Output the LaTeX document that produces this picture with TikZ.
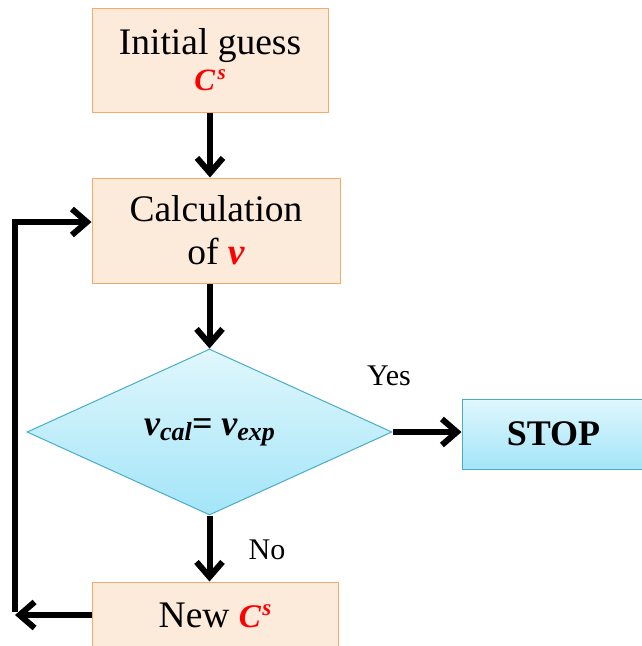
\documentclass[tikz,border=0pt]{standalone}
\usepackage{fontspec}
\setmainfont{Liberation Serif}
\usetikzlibrary{shapes.geometric,arrows.meta}
\definecolor{boxfill}{HTML}{FCEADB}
\definecolor{boxedge}{HTML}{F6A96B}
\definecolor{cyantop}{HTML}{E0F7FD}
\definecolor{cyanbot}{HTML}{A3E5F8}
\definecolor{cyanedge}{HTML}{4BACC6}
\definecolor{accent}{HTML}{FF0000}
\newcommand{\CsBig}{\textcolor{accent}{\bfseries\itshape\fontsize{33}{33}\selectfont C\kern1.5pt\raisebox{12pt}{\fontsize{23}{23}\selectfont s}}}
\newcommand{\CsSmall}{\textcolor{accent}{\bfseries\itshape\fontsize{31}{31}\selectfont C\kern2.5pt\raisebox{11pt}{\fontsize{21}{21}\selectfont s}}}
\newcommand{\vred}{\textcolor{accent}{\bfseries\itshape v}}
\newcommand{\subtxt}[1]{\raisebox{-5pt}{\fontsize{26}{26}\selectfont #1}}
\begin{document}
\begin{tikzpicture}[x=1pt,y=-1pt,
  orangebox/.style={draw=boxedge, line width=1pt, fill=boxfill, align=center,
    inner sep=0pt, font=\fontsize{37.5}{43}\selectfont},
  cyanbox/.style={draw=cyanedge, line width=1pt, top color=cyantop, bottom color=cyanbot,
    inner sep=0pt},
  flow/.style={line width=6pt, -{Straight Barb[length=15pt,width=26pt]}},
  lbl/.style={font=\fontsize{30}{30}\selectfont, inner sep=0pt}
]
\useasboundingbox (0,0) rectangle (642,646);
\node[orangebox, minimum width=236pt, minimum height=104pt, font=\fontsize{37.5}{36}\selectfont] (init) at (210,60) {Initial guess\\\CsSmall};
\node[orangebox, minimum width=248pt, minimum height=105pt] (calc) at (216,230.5) {Calculation\\of \vred};
\node[cyanbox, shape=diamond, aspect=2.2, minimum width=365pt, minimum height=166pt,
  font=\fontsize{36}{36}\selectfont\bfseries\itshape] (dec) at (209.5,432) {v\subtxt{cal}= v\subtxt{exp}};
\node[cyanbox, minimum width=183pt, minimum height=70pt, font=\fontsize{36}{36}\selectfont\bfseries] (stop) at (553.5,434) {STOP};
\node[orangebox, minimum width=246pt, minimum height=66pt] (new) at (215,615) {New \CsBig};
\coordinate (lb) at (15,615);
\coordinate (lt) at (15,222);
\draw[flow] (init.south) -- (init.south |- calc.north);
\draw[flow] (dec.north |- calc.south) -- (dec.north);
\draw[flow] (dec.east) -- (dec.east -| stop.west);
\draw[flow] (dec.south) -- (dec.south |- new.north);
\draw[flow] (new.west) -- (lb);
\draw[flow] ([yshift=3pt]lb) -- (lt) -- (lt -| calc.west);
\node[lbl] (yes) at (389,376) {Yes};
\node[lbl] (no) at (267,550) {No};
\end{tikzpicture}
\end{document}
